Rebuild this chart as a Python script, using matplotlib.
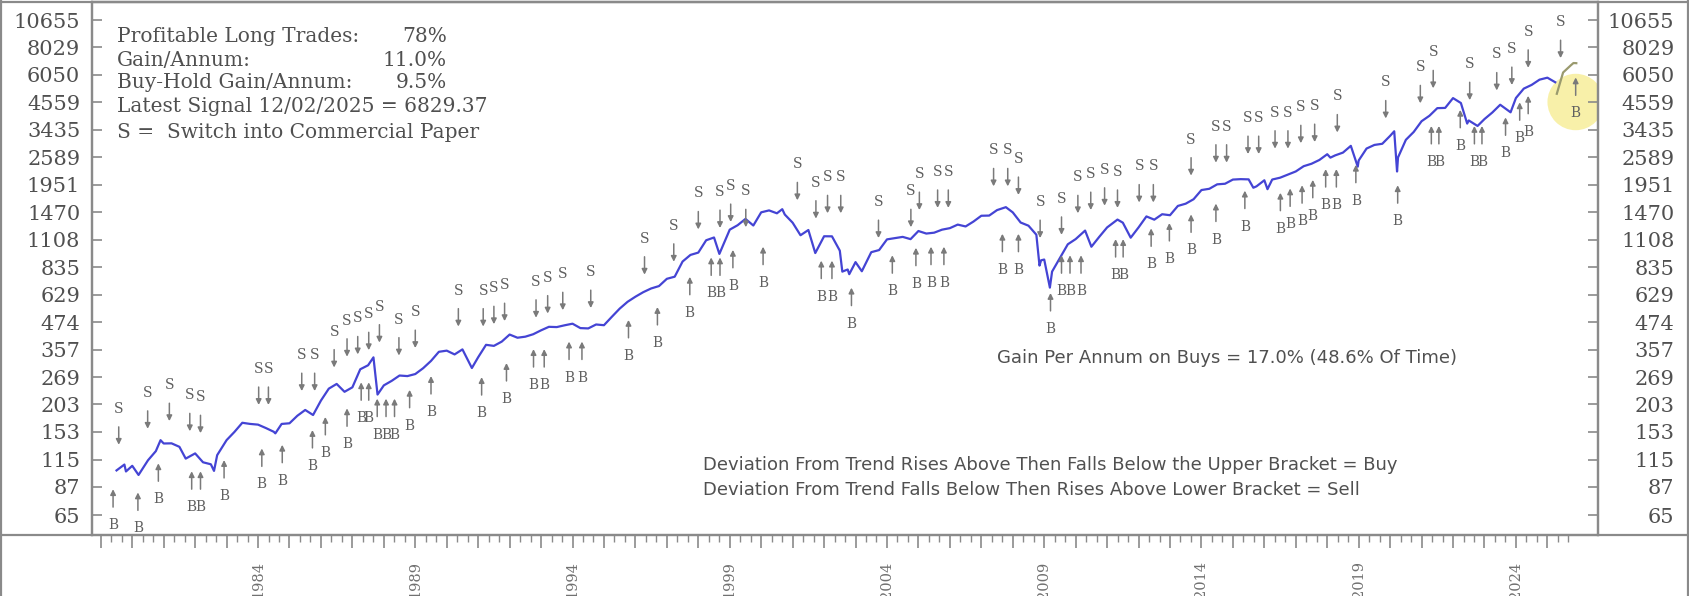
import matplotlib
matplotlib.use('Agg')
import matplotlib.pyplot as plt
import numpy as np
from matplotlib.lines import Line2D
from matplotlib.ticker import FixedLocator, FixedFormatter, NullFormatter

# index level (decimal year, value)
price_years = [1979.5, 1979.75, 1979.8, 1980.0, 1980.2, 1980.5, 1980.75, 1980.9, 1981.0, 1981.25,
               1981.5, 1981.7, 1982.0, 1982.25, 1982.5, 1982.6, 1982.7, 1983.0, 1983.25, 1983.5,
               1983.75, 1984.0, 1984.25, 1984.5, 1984.55, 1984.75, 1985.0, 1985.25, 1985.5, 1985.75,
               1986.0, 1986.25, 1986.5, 1986.75, 1987.0, 1987.25, 1987.5, 1987.67, 1987.8, 1988.0,
               1988.25, 1988.5, 1988.75, 1989.0, 1989.25, 1989.5, 1989.75, 1990.0, 1990.25, 1990.5,
               1990.8, 1991.0, 1991.25, 1991.5, 1991.75, 1992.0, 1992.25, 1992.5, 1992.75, 1993.0,
               1993.25, 1993.5, 1993.75, 1994.0, 1994.25, 1994.5, 1994.75, 1995.0, 1995.25, 1995.5,
               1995.75, 1996.0, 1996.25, 1996.5, 1996.75, 1997.0, 1997.25, 1997.5, 1997.75, 1998.0,
               1998.25, 1998.5, 1998.67, 1998.75, 1999.0, 1999.25, 1999.5, 1999.75, 2000.0, 2000.25,
               2000.5, 2000.67, 2000.75, 2001.0, 2001.25, 2001.5, 2001.72, 2002.0, 2002.25, 2002.5,
               2002.58, 2002.75, 2002.8, 2003.0, 2003.2, 2003.5, 2003.75, 2004.0, 2004.25, 2004.5,
               2004.75, 2005.0, 2005.25, 2005.5, 2005.75, 2006.0, 2006.25, 2006.5, 2006.75, 2007.0,
               2007.25, 2007.5, 2007.78, 2008.0, 2008.25, 2008.5, 2008.75, 2008.85, 2008.9, 2009.0,
               2009.18, 2009.25, 2009.5, 2009.75, 2010.0, 2010.3, 2010.5, 2010.75, 2011.0, 2011.33,
               2011.5, 2011.75, 2012.0, 2012.25, 2012.5, 2012.75, 2013.0, 2013.25, 2013.5, 2013.75,
               2014.0, 2014.25, 2014.5, 2014.75, 2015.0, 2015.25, 2015.5, 2015.65, 2015.75, 2016.0,
               2016.1, 2016.25, 2016.5, 2016.75, 2017.0, 2017.25, 2017.5, 2017.75, 2018.0, 2018.1,
               2018.25, 2018.5, 2018.75, 2018.97, 2019.0, 2019.25, 2019.5, 2019.75, 2020.0, 2020.13,
               2020.22, 2020.25, 2020.5, 2020.75, 2021.0, 2021.25, 2021.5, 2021.75, 2022.0, 2022.25,
               2022.45, 2022.5, 2022.78, 2023.0, 2023.25, 2023.5, 2023.83, 2024.0, 2024.25, 2024.5,
               2024.75, 2025.0, 2025.25, 2025.3, 2025.5, 2025.75, 2025.83, 2025.92]
price_values = [102.9, 109.3, 101.8, 107.9, 98.2, 114.2, 125.5, 140.5, 135.8, 136.0,
                131.2, 116.2, 122.6, 111.9, 109.6, 102.4, 120.4, 140.6, 153.0, 168.1,
                166.1, 164.9, 159.2, 153.2, 150.7, 166.1, 167.2, 180.7, 191.8, 182.1,
                211.3, 238.9, 250.8, 231.3, 242.2, 291.7, 304.0, 329.8, 224.8, 247.1,
                258.9, 273.5, 271.9, 277.7, 294.9, 317.9, 349.2, 353.4, 339.9, 358.0,
                295.5, 330.2, 375.2, 371.2, 387.9, 417.1, 403.7, 408.1, 418.5, 435.7,
                451.7, 450.5, 458.9, 466.5, 445.8, 444.3, 462.7, 459.3, 500.7, 544.8,
                584.4, 615.9, 645.5, 670.6, 687.3, 740.7, 757.1, 885.1, 947.3, 970.4,
                1101.8, 1133.8, 957.3, 1017.0, 1229.2, 1286.4, 1372.7, 1282.7, 1469.3, 1498.6,
                1454.6, 1517.7, 1436.5, 1320.3, 1160.3, 1224.4, 965.8, 1148.1, 1147.4, 989.8,
                797.7, 815.3, 776.8, 879.8, 800.7, 974.5, 996.0, 1111.9, 1126.2, 1140.8,
                1114.6, 1211.9, 1180.6, 1191.3, 1228.8, 1248.3, 1294.8, 1270.2, 1335.9, 1418.3,
                1420.9, 1503.4, 1549.4, 1468.4, 1322.7, 1280.0, 1166.4, 848.9, 896.2, 903.3,
                676.5, 797.9, 919.3, 1057.1, 1115.1, 1217.3, 1030.7, 1141.2, 1257.6, 1363.6,
                1320.6, 1131.4, 1257.6, 1408.5, 1362.2, 1440.7, 1426.2, 1569.2, 1606.3, 1681.6,
                1848.4, 1872.3, 1960.2, 1972.3, 2058.9, 2067.9, 2063.1, 1893.0, 1920.0, 2043.9,
                1864.8, 2059.7, 2098.9, 2168.3, 2238.8, 2362.7, 2423.4, 2519.4, 2673.6, 2581.0,
                2640.9, 2718.4, 2914.0, 2351.0, 2506.9, 2834.4, 2941.8, 2976.7, 3230.8, 3386.0,
                2237.4, 2584.6, 3100.3, 3363.0, 3756.1, 3972.9, 4297.5, 4307.5, 4766.2, 4530.4,
                3666.0, 3785.4, 3577.0, 3839.5, 4109.3, 4450.4, 4117.0, 4769.8, 5254.4, 5460.5,
                5762.5, 5881.6, 5611.9, 4982.8, 6205.0, 6688.5, 6840.0, 6829.4]

# sell signals: date and level of the arrow tip
sell_years = [1979.57, 1980.49, 1981.18, 1981.83, 1982.17, 1984.02, 1984.33, 1985.39, 1985.80, 1986.42,
              1986.83, 1987.17, 1987.52, 1987.86, 1988.48, 1989.00, 1990.37, 1991.16, 1991.50, 1991.84,
              1992.84, 1993.21, 1993.69, 1994.58, 1996.29, 1997.22, 1998.00, 1998.69, 1999.03, 1999.51,
              2001.15, 2001.74, 2002.11, 2002.53, 2003.73, 2004.76, 2005.03, 2005.61, 2005.95, 2007.39,
              2007.84, 2008.18, 2008.87, 2009.55, 2010.07, 2010.48, 2010.92, 2011.33, 2012.02, 2012.47,
              2013.67, 2014.46, 2014.80, 2015.48, 2015.82, 2016.34, 2016.75, 2017.16, 2017.60, 2018.32,
              2019.86, 2020.96, 2021.37, 2022.53, 2023.39, 2023.87, 2024.39, 2025.42]
sell_levels = [134, 158, 171, 154, 151, 202, 202, 233, 233, 297,
               332, 340, 355, 384, 336, 363, 453, 453, 464, 479,
               496, 518, 536, 548, 773, 883, 1232, 1250, 1330, 1260,
               1663, 1377, 1455, 1455, 1127, 1260, 1504, 1538, 1538, 1920,
               1920, 1757, 1127, 1165, 1455, 1504, 1573, 1538, 1626, 1626,
               2145, 2451, 2451, 2678, 2678, 2831, 2831, 2994, 3030, 3345,
               3864, 4517, 5272, 4665, 5155, 5453, 6512, 7195]

# buy signals: date and level of the arrow tip
buy_years = [1979.39, 1980.18, 1980.83, 1981.89, 1982.17, 1982.92, 1984.12, 1984.77, 1985.73, 1986.14,
             1986.83, 1987.28, 1987.52, 1987.79, 1988.07, 1988.34, 1988.82, 1989.50, 1991.11, 1991.90,
             1992.76, 1993.10, 1993.89, 1994.30, 1995.78, 1996.70, 1997.73, 1998.41, 1998.69, 1999.10,
             2000.06, 2001.91, 2002.25, 2002.87, 2004.17, 2004.92, 2005.40, 2005.81, 2007.67, 2008.18,
             2009.20, 2009.55, 2009.82, 2010.17, 2011.27, 2011.51, 2012.40, 2012.98, 2013.67, 2014.46,
             2015.38, 2016.51, 2016.82, 2017.20, 2017.54, 2017.95, 2018.29, 2018.91, 2020.24, 2021.31,
             2021.55, 2022.23, 2022.68, 2022.92, 2023.67, 2024.12, 2024.39, 2025.90]
buy_levels = [84.8, 82, 110.7, 102, 102, 114.5, 129, 134, 156, 178.5,
              195, 255, 255, 215.5, 215.5, 215.5, 236, 272, 269, 311,
              359, 359, 388, 388, 485, 554, 756, 923, 923, 998,
              1031, 893, 893, 676, 944, 1020, 1031, 1031, 1178, 1178,
              640, 944, 944, 944, 1115, 1115, 1245, 1316, 1438, 1608,
              1837, 1797, 1879, 1942, 2053, 2293, 2293, 2398, 1942, 3577,
              3577, 4223, 3577, 3577, 3907, 4563, 4880, 5896]

y_ticks = [65, 87, 115, 153, 203, 269, 357, 474, 629, 835, 1108, 1470,
           1951, 2589, 3435, 4559, 6050, 8029, 10655]
label_years = [1984, 1989, 1994, 1999, 2004, 2009, 2014, 2019, 2024]

stats_labels = ['Profitable Long Trades:', 'Gain/Annum:', 'Buy-Hold Gain/Annum:']
stats_values = ['78%', '11.0%', '9.5%']
latest_signal = 'Latest Signal 12/02/2025 = 6829.37'
legend_note = 'S =  Switch into Commercial Paper'
buy_gain_note = 'Gain Per Annum on Buys = 17.0% (48.6% Of Time)'
rule_notes = ['Deviation From Trend Rises Above Then Falls Below the Upper Bracket = Buy',
              'Deviation From Trend Falls Below Then Rises Above Lower Bracket = Sell']
highlight_point = (2025.9, 4578)
recent_start = 2025.25

W, H = 1690, 596
fig = plt.figure(figsize=(W / 100, H / 100), dpi=100)
ax = fig.add_axes([92 / W, 61 / H, (1598 - 92) / W, (535 - 2) / H])

axis_grey = '#8a8a8a'
text_grey = '#505050'
serif = 'DejaVu Serif'

years = np.array(price_years)
vals = np.array(price_values)
old = years <= recent_start
ax.plot(years[old], vals[old], color='#4444d4', lw=1.6, zorder=3)
ax.plot(years[~old], vals[~old], color='#9a9a6e', lw=1.6, zorder=3)

ax.scatter([highlight_point[0]], [highlight_point[1]], s=1650, color='#f6ec8c',
           alpha=0.75, edgecolors='none', zorder=1)

arrow_kw = dict(arrowstyle='-|>', color='#7a7a7a', lw=1.1, mutation_scale=8,
                shrinkA=6, shrinkB=0)
for yr, lv in zip(sell_years, sell_levels):
    ax.annotate('S', xy=(yr, lv), xytext=(0, 36), textcoords='offset pixels',
                ha='center', va='center', fontsize=10, color='#606060', family=serif,
                arrowprops=arrow_kw, zorder=4)
for yr, lv in zip(buy_years, buy_levels):
    ax.annotate('B', xy=(yr, lv), xytext=(0, -36), textcoords='offset pixels',
                ha='center', va='center', fontsize=10, color='#606060', family=serif,
                arrowprops=arrow_kw, zorder=4)

ax.set_yscale('log')
ax.set_ylim(52.9, 12826)
ax.set_xlim(1978.72, 2026.61)

ax.yaxis.set_major_locator(FixedLocator(y_ticks))
ax.yaxis.set_major_formatter(FixedFormatter([str(v) for v in y_ticks]))
ax.yaxis.set_minor_locator(FixedLocator([]))
ax.yaxis.set_minor_formatter(NullFormatter())
ax.tick_params(axis='y', direction='in', length=7, width=1.2, color=axis_grey,
               pad=8.5, labelsize=15, labelcolor=text_grey)
for lab in ax.get_yticklabels():
    lab.set_family(serif)

ax2 = ax.twinx()
ax2.set_yscale('log')
ax2.set_ylim(ax.get_ylim())
ax2.yaxis.set_major_locator(FixedLocator(y_ticks))
ax2.yaxis.set_major_formatter(FixedFormatter([str(v) for v in y_ticks]))
ax2.yaxis.set_minor_locator(FixedLocator([]))
ax2.yaxis.set_minor_formatter(NullFormatter())
ax2.tick_params(axis='y', direction='in', length=7, width=1.2, color=axis_grey,
                pad=55, labelsize=15, labelcolor=text_grey)
for lab in ax2.get_yticklabels():
    lab.set_family(serif)
    lab.set_horizontalalignment('right')

major_years = list(range(1979, 2026))
minor_years = [y + f for y in range(1979, 2026) for f in (1 / 3, 2 / 3)]
ax.xaxis.set_major_locator(FixedLocator(major_years))
ax.xaxis.set_major_formatter(FixedFormatter(
    [str(y) if y in label_years else '' for y in major_years]))
ax.xaxis.set_minor_locator(FixedLocator(minor_years))
ax.tick_params(axis='x', which='major', direction='out', length=9, width=1.2,
               color=axis_grey, pad=10, labelsize=10.5, labelcolor='#707070',
               labelrotation=90)
ax.tick_params(axis='x', which='minor', direction='out', length=5, width=1.0,
               color=axis_grey)
for lab in ax.get_xticklabels():
    lab.set_family(serif)

for a in (ax, ax2):
    for sp in a.spines.values():
        sp.set_color(axis_grey)
        sp.set_linewidth(1.6)
ax2.spines['bottom'].set_visible(False)

# outer frame and full-width base line
fig.add_artist(Line2D([0, 1], [1 - 535 / H, 1 - 535 / H], color=axis_grey, lw=1.6))
for xs, ys in [([1 / W, 1 / W], [0, 1]), ([1688 / W, 1688 / W], [0, 1]),
               ([0, 1], [1 - 1.5 / H, 1 - 1.5 / H])]:
    fig.add_artist(Line2D(xs, ys, color=axis_grey, lw=1.6))

# statistics box
rows_y = [36, 60, 83, 106]
for lab, val, yy in zip(stats_labels, stats_values, rows_y):
    fig.text(117 / W, 1 - yy / H, lab, ha='left', va='center', fontsize=14.5,
             family=serif, color=text_grey)
    fig.text(447 / W, 1 - yy / H, val, ha='right', va='center', fontsize=14.5,
             family=serif, color=text_grey)
fig.text(117 / W, 1 - rows_y[3] / H, latest_signal, ha='left', va='center',
         fontsize=14.5, family=serif, color=text_grey)
fig.text(117 / W, 1 - 132 / H, legend_note, ha='left', va='center', fontsize=14.5,
         family=serif, color=text_grey)

fig.text(997 / W, 1 - 358 / H, buy_gain_note, ha='left', va='center', fontsize=13,
         color=text_grey)
fig.text(703 / W, 1 - 465 / H, rule_notes[0], ha='left', va='center', fontsize=13,
         color=text_grey)
fig.text(703 / W, 1 - 490 / H, rule_notes[1], ha='left', va='center', fontsize=13,
         color=text_grey)

fig.savefig('out.png', dpi=100)
